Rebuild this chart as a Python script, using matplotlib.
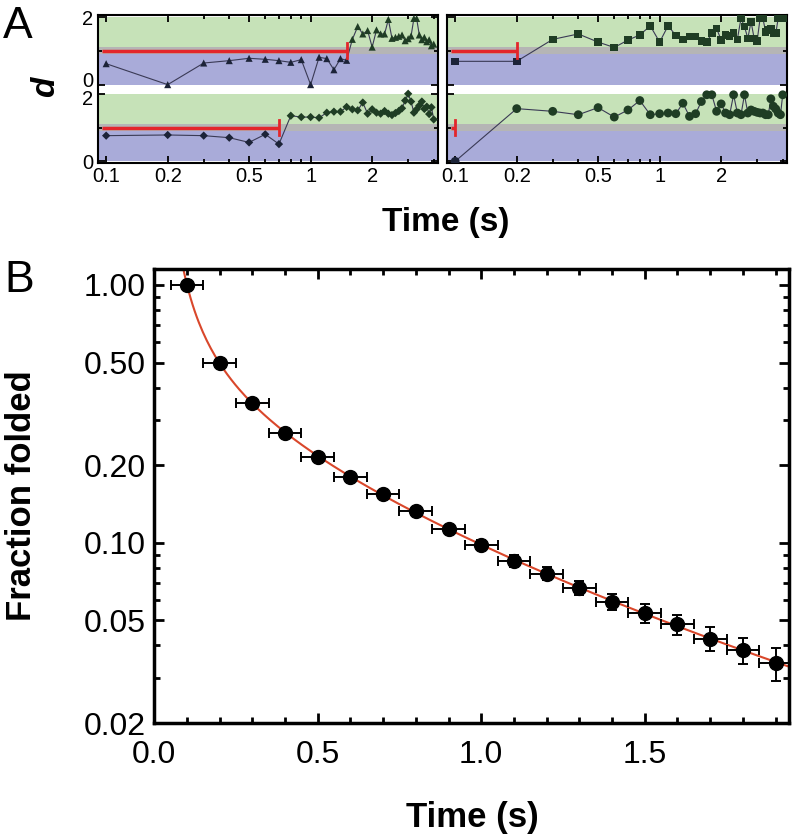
import numpy as np
import matplotlib.pyplot as plt
from matplotlib.ticker import FixedLocator, FixedFormatter, NullFormatter
from matplotlib.transforms import ScaledTranslation

plt.rcParams['font.family'] = ['Liberation Sans', 'DejaVu Sans']

# ---- panel A: single-molecule traces, one frame every 0.1 s ----
frame_t = [0.1, 0.2, 0.3, 0.4, 0.5, 0.6, 0.7, 0.8, 0.9, 1.0,
           1.1, 1.2, 1.3, 1.4, 1.5, 1.6, 1.7, 1.8, 1.9, 2.0,
           2.1, 2.2, 2.3, 2.4, 2.5, 2.6, 2.7, 2.8, 2.9, 3.0,
           3.1, 3.2, 3.3, 3.4, 3.5, 3.6, 3.7, 3.8, 3.9, 4.0]

d_tri = [0.62, 0.00, 0.64, 0.71, 0.78, 0.75, 0.71, 0.66, 0.74, 0.00,
         0.81, 0.77, 0.44, 0.77, 0.72, 1.34, 1.72, 1.50, 1.60, 1.11,
         1.62, 1.50, 1.50, 1.93, 1.37, 1.40, 1.43, 1.47, 1.30, 1.36,
         1.44, 1.96, 1.96, 1.47, 1.33, 1.40, 1.27, 1.33, 1.15, 1.20]
d_dia = [0.76, 0.78, 0.76, 0.70, 0.56, 0.80, 0.51, 1.35, 1.31, 1.31,
         1.29, 1.44, 1.47, 1.47, 1.61, 1.54, 1.51, 1.74, 1.41, 1.54,
         1.44, 1.41, 1.49, 1.41, 1.37, 1.43, 1.49, 1.57, 1.80, 2.00,
         1.77, 1.44, 1.54, 1.65, 1.77, 1.55, 1.62, 1.40, 1.60, 1.24]
d_sq = [0.69, 0.69, 1.34, 1.50, 1.26, 1.10, 1.32, 1.47, 1.74, 1.26,
        1.74, 1.46, 1.34, 1.42, 1.42, 1.30, 1.26, 1.52, 1.66, 1.32,
        1.47, 1.44, 1.52, 1.34, 1.96, 1.72, 1.37, 1.86, 1.37, 1.30,
        1.96, 1.96, 1.56, 1.62, 1.66, 1.52, 1.52, 1.96, 1.96, 1.96]
d_cir = [0.00, 1.56, 1.48, 1.38, 1.59, 1.31, 1.52, 1.80, 1.38, 1.41,
         1.43, 1.41, 1.72, 1.33, 1.41, 1.77, 1.97, 1.97, 1.48, 1.70,
         1.43, 1.38, 1.97, 1.43, 1.38, 1.97, 1.43, 1.52, 1.48, 1.45,
         1.43, 1.43, 1.38, 1.38, 1.85, 1.63, 1.55, 1.43, 1.38, 1.97]
dwell = {'tri': 1.5, 'dia': 0.7, 'sq': 0.2, 'cir': 0.1}

# ---- panel B: survival of unfolded state ----
t_b = [0.1, 0.2, 0.3, 0.4, 0.5, 0.6, 0.7, 0.8, 0.9, 1.0,
       1.1, 1.2, 1.3, 1.4, 1.5, 1.6, 1.7, 1.8, 1.9]
frac = [1.00, 0.50, 0.348, 0.266, 0.215, 0.180, 0.154, 0.133, 0.113, 0.098,
        0.085, 0.076, 0.0668, 0.0592, 0.0534, 0.0484, 0.0425, 0.0383, 0.0342]
frac_err = [0.010, 0.008, 0.006, 0.005, 0.005, 0.0045, 0.0045, 0.0045, 0.0045, 0.0045,
            0.0045, 0.0045, 0.0042, 0.0041, 0.0045, 0.0043, 0.0045, 0.0045, 0.0050]
t_err = [0.05] * len(t_b)

OFF = 2.27  # vertical offset of upper trace
c_blue, c_gray, c_green = '#a9abd9', '#b5b5b5', '#c6e2b8'
c_red = '#e3262b'
fs_a = 14.5

fig = plt.figure(figsize=(7.95, 8.36), dpi=100)
axL = fig.add_axes([0.123, 0.805, 0.428, 0.177])
axR = fig.add_axes([0.562, 0.805, 0.428, 0.177])


def trace(ax, d, off, marker, size, key):
    y = [v + off for v in d]
    cols = ['#1c2338' if v < 1 else '#1f3d24' for v in d]
    ax.plot(frame_t, y, '-', color='#3a3a55', lw=0.8, zorder=2)
    ax.scatter(frame_t, y, marker=marker, s=size, c=cols, linewidths=0, zorder=3)
    end = dwell[key]
    ax.plot([0.095, end], [1 + off, 1 + off], color=c_red, lw=2.5, zorder=4, solid_capstyle='butt')
    ax.plot([end, end], [1 + off - 0.22, 1 + off + 0.22], color=c_red, lw=2.0, zorder=4)


for ax in (axL, axR):
    for off in (0, OFF):
        ax.axhspan(off, off + 0.9, color=c_blue, lw=0, zorder=0)
        ax.axhspan(off + 0.9, off + 1.1, color=c_gray, lw=0, zorder=0)
        ax.axhspan(off + 1.1, off + 2.0, color=c_green, lw=0, zorder=0)
    ax.set_xscale('log')
    ax.set_xlim(0.091, 4.2)
    ax.set_ylim(-0.05, OFF + 2.06)
    ax.xaxis.set_major_locator(FixedLocator([0.1, 0.2, 0.5, 1, 2]))
    ax.xaxis.set_major_formatter(FixedFormatter(['0.1', '0.2', '0.5', '1', '2']))
    ax.xaxis.set_minor_locator(FixedLocator([0.3, 0.4, 0.6, 0.7, 0.8, 0.9, 3, 4]))
    ax.xaxis.set_minor_formatter(NullFormatter())
    ax.yaxis.set_major_locator(FixedLocator([0, 2, OFF, OFF + 2]))
    ax.yaxis.set_minor_locator(FixedLocator([1, OFF + 1]))
    ax.tick_params(which='both', direction='in', top=True, right=True, width=1.3, labelsize=fs_a, pad=3)
    ax.tick_params(which='major', length=5)
    ax.tick_params(which='minor', length=3)
    for s in ax.spines.values():
        s.set_linewidth(1.5)

axL.set_yticklabels(['0', '2', '0', '2'])
axR.set_yticklabels([])
# nudge the crowded middle labels apart a little
ylabs = axL.get_yticklabels()
ylabs[1].set_transform(ylabs[1].get_transform() + ScaledTranslation(0, -3 / 72, fig.dpi_scale_trans))
ylabs[2].set_transform(ylabs[2].get_transform() + ScaledTranslation(0, 4 / 72, fig.dpi_scale_trans))

trace(axL, d_tri, OFF, '^', 26, 'tri')
trace(axL, d_dia, 0, 'D', 18, 'dia')
trace(axR, d_sq, OFF, 's', 30, 'sq')
trace(axR, d_cir, 0, 'o', 40, 'cir')

fig.text(0.057, 1 - 87 / 836, 'd', rotation=90, fontsize=24, fontweight='bold',
         fontstyle='italic', ha='center', va='center')
fig.text(0.56, 1 - 223 / 836, 'Time (s)', fontsize=24, fontweight='bold', ha='center', va='center')
fig.text(0.022, 1 - 26 / 836, 'A', fontsize=32, ha='center', va='center')
fig.text(0.024, 1 - 281 / 836, 'B', fontsize=32, ha='center', va='center')

# ---- panel B ----
axB = fig.add_axes([0.194, 0.135, 0.798, 0.543])
axB.set_yscale('log')
axB.set_xlim(0, 1.94)
axB.set_ylim(0.02, 1.15)

coef = np.polyfit(np.log(t_b), np.log(frac), 3)
tf = np.linspace(0.08, 1.94, 300)
axB.plot(tf, np.exp(np.polyval(coef, np.log(tf))), color='#d9472b', lw=1.5, zorder=2)
axB.errorbar(t_b, frac, xerr=t_err, yerr=frac_err, fmt='o', color='black', ms=10,
             elinewidth=1.4, capsize=3.5, capthick=1.4, zorder=3)

axB.yaxis.set_major_locator(FixedLocator([0.02, 0.05, 0.1, 0.2, 0.5, 1.0]))
axB.yaxis.set_major_formatter(FixedFormatter(['0.02', '0.05', '0.10', '0.20', '0.50', '1.00']))
axB.yaxis.set_minor_locator(FixedLocator([0.03, 0.04, 0.06, 0.07, 0.08, 0.09,
                                          0.3, 0.4, 0.6, 0.7, 0.8, 0.9]))
axB.yaxis.set_minor_formatter(NullFormatter())
axB.set_xticks([0.0, 0.5, 1.0, 1.5])
axB.set_xticklabels(['0.0', '0.5', '1.0', '1.5'])
axB.set_xticks([0.1, 0.2, 0.3, 0.4, 0.6, 0.7, 0.8, 0.9, 1.1, 1.2, 1.3, 1.4,
                1.6, 1.7, 1.8, 1.9], minor=True)
axB.tick_params(which='both', direction='in', top=True, right=True, width=2, labelsize=23)
axB.tick_params(which='major', length=7)
axB.tick_params(which='minor', length=4)
axB.tick_params(axis='x', which='major', pad=12)
axB.tick_params(axis='y', which='major', pad=6)
for s in axB.spines.values():
    s.set_linewidth(2.5)

fig.text(0.594, 1 - 817 / 836, 'Time (s)', fontsize=25, fontweight='bold', ha='center', va='center')
fig.text(0.027, 0.407, 'Fraction folded', rotation=90, fontsize=25, fontweight='bold',
         ha='center', va='center')

fig.savefig('out.png', dpi=100)
